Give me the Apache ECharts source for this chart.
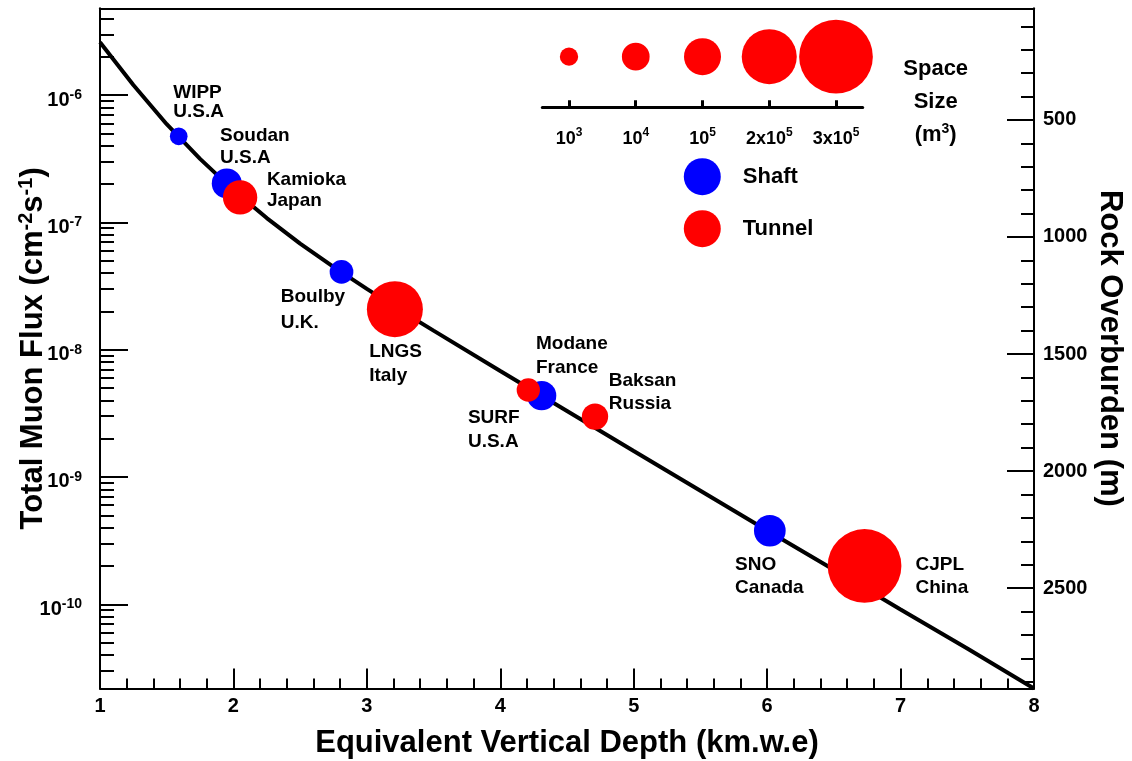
<!DOCTYPE html>
<html><head><meta charset="utf-8">
<script src="https://cdn.jsdelivr.net/npm/echarts@6/dist/echarts.min.js"></script>
<style>html,body{margin:0;padding:0;background:#fff}#chart{width:1132px;height:761px}</style>
</head><body><div id="chart"></div>
<script>
// ---------------- data ----------------
const curveDepth = [1, 1.25, 1.5, 1.75, 2, 2.25, 2.5, 2.75, 3, 3.25, 3.5, 4, 4.5, 5, 5.5, 6, 6.5, 7, 7.5, 8];
const curveFlux  = [2.6e-6, 1.2e-6, 5.9e-7, 3.15e-7, 1.79e-7, 1.08e-7, 6.8e-8, 4.47e-8, 3.0e-8, 2.04e-8, 1.41e-8, 6.8e-9, 3.3e-9, 1.6e-9, 7.8e-10, 3.8e-10, 1.87e-10, 9.1e-11, 4.5e-11, 2.18e-11];

const labNames     = ['WIPP', 'Soudan', 'Kamioka', 'Boulby', 'LNGS', 'Modane', 'SURF', 'Baksan', 'SNO', 'CJPL'];
const labCountries = ['U.S.A', 'U.S.A', 'Japan', 'U.K.', 'Italy', 'France', 'U.S.A', 'Russia', 'Canada', 'China'];
const labType      = ['Shaft', 'Shaft', 'Tunnel', 'Shaft', 'Tunnel', 'Tunnel', 'Shaft', 'Tunnel', 'Shaft', 'Tunnel'];
const labDepth     = [1.59, 1.95, 2.05, 2.81, 3.21, 4.21, 4.31, 4.71, 6.02, 6.73];
const labFlux      = [4.74e-7, 2.02e-7, 1.57e-7, 4.08e-8, 2.08e-8, 4.82e-9, 4.35e-9, 2.98e-9, 3.78e-10, 2.00e-10];
const labVolume    = [860, 17700, 51300, 3750, 204400, 3400, 14900, 7100, 26900, 300000];

const spaceLegendVolumes = [1e3, 1e4, 1e5, 2e5, 3e5];
const spaceLegendLabels  = ['10^3', '10^4', '10^5', '2x10^5', '3x10^5'];
const fluxTickExponents  = [-10, -9, -8, -7, -6];
const overburdenTicks    = [500, 1000, 1500, 2000, 2500];

// ---------------- axis ranges / styles ----------------
const FLUX_MIN = 2.18e-11, FLUX_MAX = 4.8e-6;
const OB_MIN = 23, OB_MAX = 2929;
const FONT = "'Liberation Sans', Arial, Helvetica, sans-serif";
const BLUE = '#0000ff', RED = '#ff0000';

// bubble diameter scale (px) vs space volume, from the size key
const sizeNodesLog  = [3, 4, 5, Math.log10(2e5), Math.log10(3e5)];
const sizeNodesDiam = [18.3, 27.7, 37, 55, 73.7];
function sizeOf(v) {
  const l = Math.log10(v);
  let i = 0;
  while (i < sizeNodesLog.length - 2 && l > sizeNodesLog[i + 1]) i++;
  const t = (l - sizeNodesLog[i]) / (sizeNodesLog[i + 1] - sizeNodesLog[i]);
  return sizeNodesDiam[i] + t * (sizeNodesDiam[i + 1] - sizeNodesDiam[i]);
}
// label placement: [dx to text left, dy to text top, lineHeight] relative to bubble centre
const labelPlacement = {
  WIPP: [-5.5, -52.7, 19], Soudan: [-6.7, -58.4, 21.6], Kamioka: [26.8, -28.7, 21.7],
  Boulby: [-60.8, 12.6, 25.3], LNGS: [-25.7, 30.5, 24], Modane: [7.7, -58, 24],
  SURF: [-73.7, 10.8, 23.3], Baksan: [13.8, -47, 23], SNO: [-34.8, 22.4, 23], CJPL: [50.9, -12.8, 23]
};

const majorFlux = fluxTickExponents.map(e => Math.pow(10, e));
const minorFlux = [];
for (let e = -11; e <= -6; e++) for (let k = 2; k <= 9; k++) {
  const v = k * Math.pow(10, e);
  if (v >= FLUX_MIN && v <= FLUX_MAX) minorFlux.push(v);
}
const overburdenMinor = [];
for (let v = 100; v < OB_MAX; v += 100) overburdenMinor.push(v);

function supLabel(s) {
  const p = s.split('^');
  return '{b|' + p[0] + '}{s|' + p[1] + '}';
}

const lineBlack = { color: '#000', width: 2 };
const boldText = { fontFamily: FONT, fontWeight: 'bold', color: '#000' };

function labSeries(type, color, z) {
  const data = [];
  labNames.forEach((n, i) => {
    if (labType[i] !== type) return;
    const d = sizeOf(labVolume[i]);
    const p = labelPlacement[n];
    data.push({
      name: n,
      value: [labDepth[i], labFlux[i]],
      symbolSize: d,
      label: {
        show: true, position: [p[0] + d / 2, p[1] + d / 2],
        align: 'left', verticalAlign: 'top', lineHeight: p[2],
        formatter: n + '\n' + labCountries[i],
        fontFamily: FONT, fontWeight: 'bold', fontSize: 19, color: '#000'
      }
    });
  });
  return {
    name: type, type: 'scatter', xAxisIndex: 0, yAxisIndex: 0, symbol: 'circle',
    itemStyle: { color: color, opacity: 1 }, data: data, z: z,
    emphasis: { disabled: true }
  };
}

const chart = echarts.init(document.getElementById('chart'), null, { renderer: 'canvas' });
chart.setOption({
  animation: false,
  backgroundColor: '#fff',
  grid: [
    { left: 100, right: 98, top: 8.3, bottom: 72.5, containLabel: false, outerBoundsMode: 'none' },
    { left: 542.3, width: 320.4, top: 6, height: 101.3, containLabel: false, outerBoundsMode: 'none' }
  ],
  legend: {
    data: ['Shaft', 'Tunnel'], orient: 'vertical', left: 683.8, top: 158.2, padding: 0,
    itemWidth: 37, itemHeight: 37, itemGap: 15, icon: 'circle', selectedMode: false,
    textStyle: { fontFamily: FONT, fontWeight: 'bold', fontSize: 22, color: '#000', padding: [8, 0, 0, 17] }
  },
  xAxis: [
    {
      gridIndex: 0, type: 'value', min: 1, max: 8, interval: 1, position: 'bottom',
      axisLine: { show: true, onZero: false, lineStyle: lineBlack },
      axisTick: { show: true, inside: true, length: 20, lineStyle: lineBlack },
      minorTick: { show: true, splitNumber: 5, length: 10, lineStyle: lineBlack },
      splitLine: { show: false }, minorSplitLine: { show: false },
      axisLabel: Object.assign({ fontSize: 20, margin: 8 }, boldText),
      name: 'Equivalent Vertical Depth (km.w.e)', nameLocation: 'middle', nameGap: 39, nameMoveOverlap: false,
      nameTextStyle: Object.assign({ fontSize: 31 }, boldText)
    },
    {
      gridIndex: 0, type: 'value', min: 1, max: 8, position: 'top',
      axisLine: { show: true, onZero: false, lineStyle: lineBlack },
      axisTick: { show: false }, axisLabel: { show: false }, splitLine: { show: false }
    },
    {
      gridIndex: 1, type: 'value', min: -0.4, max: 4.4, position: 'bottom',
      axisLine: { show: true, onZero: false, lineStyle: { color: '#000', width: 3 } },
      axisTick: { show: true, inside: true, length: 7, customValues: [0, 1, 2, 3, 4], lineStyle: { color: '#000', width: 3 } },
      axisLabel: {
        customValues: [0, 1, 2, 3, 4], margin: 15,
        formatter: v => supLabel(spaceLegendLabels[Math.round(v)]),
        rich: {
          b: Object.assign({ fontSize: 18, padding: [8, 0, 0, 0], verticalAlign: 'middle' }, boldText),
          s: Object.assign({ fontSize: 12, padding: [0, 0, 5, 0], verticalAlign: 'middle' }, boldText)
        }
      },
      splitLine: { show: false },
      name: 'Space\nSize\n(m{s|3})', nameLocation: 'end', nameGap: 73, nameMoveOverlap: false,
      nameTextStyle: Object.assign({
        fontSize: 22, lineHeight: 33, align: 'center', verticalAlign: 'middle', padding: [0, 0, 10, 0],
        rich: { s: Object.assign({ fontSize: 14, padding: [0, 0, 12, 0] }, boldText) }
      }, boldText)
    }
  ],
  yAxis: [
    {
      gridIndex: 0, type: 'log', logBase: 10, min: FLUX_MIN, max: FLUX_MAX, position: 'left',
      axisLine: { show: true, onZero: false, lineStyle: lineBlack },
      axisTick: { show: true, inside: true, length: 28, customValues: majorFlux, lineStyle: lineBlack },
      axisLabel: {
        customValues: majorFlux, margin: 18,
        formatter: v => '{b|10}{s|' + Math.round(Math.log10(v)) + '}',
        rich: {
          b: Object.assign({ fontSize: 20, padding: [10, 0, 0, 0], verticalAlign: 'middle' }, boldText),
          s: Object.assign({ fontSize: 14, verticalAlign: 'middle' }, boldText)
        }
      },
      splitLine: { show: false },
      name: 'Total Muon Flux (cm{s|-2}s{s|-1})', nameLocation: 'middle', nameGap: 50, nameMoveOverlap: false,
      nameTextStyle: Object.assign({
        fontSize: 31,
        rich: { s: Object.assign({ fontSize: 20, padding: [0, 0, 14, 0] }, boldText) }
      }, boldText)
    },
    {
      gridIndex: 0, type: 'log', logBase: 10, min: FLUX_MIN, max: FLUX_MAX, position: 'left',
      axisLine: { show: false },
      axisTick: { show: true, inside: true, length: 14, customValues: minorFlux, lineStyle: lineBlack },
      axisLabel: { show: false }, splitLine: { show: false }
    },
    {
      gridIndex: 0, type: 'value', min: OB_MIN, max: OB_MAX, inverse: true, position: 'right',
      axisLine: { show: true, onZero: false, lineStyle: lineBlack },
      axisTick: { show: true, inside: true, length: 27, customValues: overburdenTicks, lineStyle: lineBlack },
      axisLabel: Object.assign({ customValues: overburdenTicks, margin: 9, fontSize: 20, formatter: v => String(v) }, boldText),
      splitLine: { show: false },
      name: 'Rock Overburden (m)', nameLocation: 'middle', nameRotate: -90, nameGap: 60, nameMoveOverlap: false,
      nameTextStyle: Object.assign({ fontSize: 31 }, boldText)
    },
    {
      gridIndex: 0, type: 'value', min: OB_MIN, max: OB_MAX, inverse: true, position: 'right',
      axisLine: { show: false },
      axisTick: { show: true, inside: true, length: 13, customValues: overburdenMinor, lineStyle: lineBlack },
      axisLabel: { show: false }, splitLine: { show: false }
    },
    { gridIndex: 1, type: 'value', min: 0, max: 2, show: false }
  ],
  series: [
    {
      name: 'Flux curve', type: 'line', xAxisIndex: 0, yAxisIndex: 0,
      data: curveDepth.map((d, i) => [d, curveFlux[i]]),
      smooth: false, symbol: 'none', z: 2,
      lineStyle: { color: '#000', width: 4 }, emphasis: { disabled: true }
    },
    labSeries('Shaft', BLUE, 3),
    labSeries('Tunnel', RED, 4),
    {
      name: 'Space size', type: 'scatter', xAxisIndex: 2, yAxisIndex: 4, symbol: 'circle',
      itemStyle: { color: RED, opacity: 1 },
      data: spaceLegendVolumes.map((v, i) => ({ value: [i, 1], symbolSize: sizeOf(v) })),
      emphasis: { disabled: true }
    }
  ]
});
</script>
</body></html>
